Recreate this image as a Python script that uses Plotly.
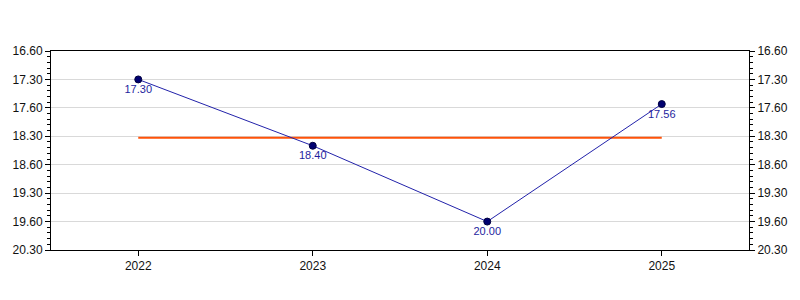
import plotly.graph_objects as go

years = ["2022", "2023", "2024", "2025"]
times_label = ["17.30", "18.40", "20.00", "17.56"]  # mm.ss
tick_labels = ["16.60", "17.30", "17.60", "18.30", "18.60", "19.30", "19.60", "20.30"]
tick_vals = [17.0, 17.5, 18.0, 18.5, 19.0, 19.5, 20.0, 20.5]


def to_minutes(s):
    m, sec = s.split(".")
    return int(m) + int(sec) / 60.0


values = [to_minutes(s) for s in times_label]
avg = sum(values) / len(values)

font = "Arial, Liberation Sans, sans-serif"

fig = go.Figure()
fig.add_trace(go.Scatter(
    x=years, y=[avg] * len(years), mode="lines",
    line=dict(color="#FF5208", width=2), hoverinfo="skip", showlegend=False))
fig.add_trace(go.Scatter(
    x=years, y=values, mode="lines+markers+text",
    text=times_label, textposition="bottom center",
    textfont=dict(family=font, size=11, color="#1E1E9E"),
    line=dict(color="#2222AA", width=1),
    marker=dict(color="#000070", size=7, line=dict(color="#000040", width=1)),
    showlegend=False))
fig.add_trace(go.Scatter(
    x=years, y=values, mode="markers", marker=dict(opacity=0),
    yaxis="y2", hoverinfo="skip", showlegend=False))

yax = dict(
    range=[20.5, 17.0], tickmode="array", tickvals=tick_vals, ticktext=tick_labels,
    ticks="outside", ticklen=5, tickcolor="black", tickwidth=1,
    showline=True, linecolor="black", linewidth=1,
    showgrid=True, gridcolor="#D9D9D9", gridwidth=1, zeroline=False,
    tickfont=dict(family=font, size=12, color="#111111"),
    minor=dict(ticks="outside", ticklen=3, tickcolor="black", dtick=0.1,
               tick0=17.0, showgrid=False),
)
fig.update_layout(
    width=800, height=300,
    margin=dict(l=51, r=49, t=51, b=50),
    paper_bgcolor="white", plot_bgcolor="white",
    xaxis=dict(type="category", range=[-0.5, 3.5], ticks="outside", ticklen=5,
               tickcolor="black", showline=True, linecolor="black", linewidth=1,
               mirror=True, showgrid=False,
               tickfont=dict(family=font, size=12, color="#111111")),
    yaxis=dict(**yax, mirror=True),
    yaxis2=dict(**yax, overlaying="y", side="right"),
)
fig.update_layout(yaxis2=dict(showgrid=False))

fig.write_html("out.html")
